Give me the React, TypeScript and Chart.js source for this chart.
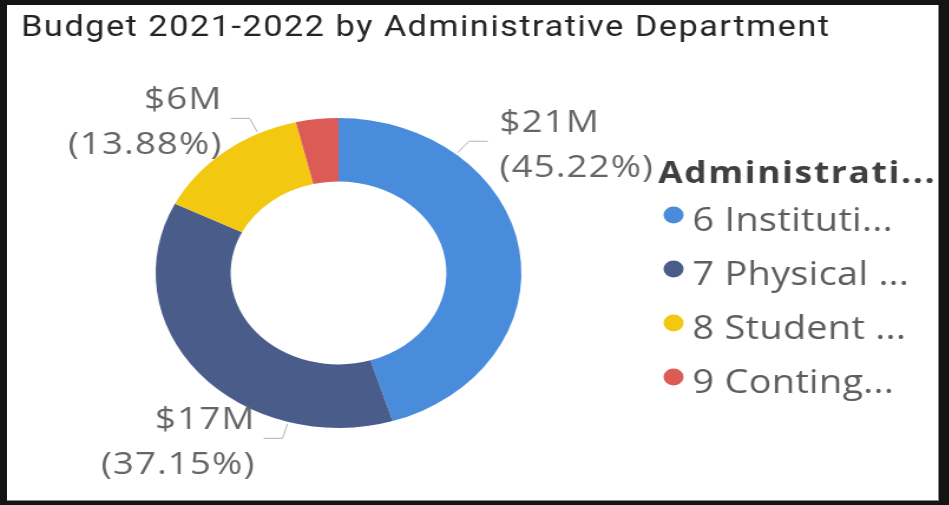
import React, { useEffect, useRef } from "react";
import { Chart, registerables } from "chart.js";

Chart.register(...registerables);

// ---- data ----
const chartTitle = "Budget 2021-2022 by Administrative Department";
const legendTitle = "Administrati...";
const categories = ["6 Instituti...", "7 Physical ...", "8 Student ...", "9 Conting..."];
const budgetMillions = [20.982, 17.238, 6.44, 1.74];
const sliceColors = ["#4A8CDC", "#4A5C8A", "#F2C811", "#DC5B57"];
// slices that carry a data label, and where the leader line leaves the ring (deg, clockwise from top)
const labelledSlices = [0, 1, 2];
const labelAnchorDeg = [40, 196, 334];

const CANVAS_W = 790;
const CANVAS_H = 496;
const STRETCH = 932 / 790;

const overlayPlugin = {
  id: "overlay",
  afterDraw(chart: any) {
    const ctx: any = chart.ctx;
    const ds = chart.data.datasets[0];
    const values: number[] = ds.data;
    const total = values.reduce((a: number, b: number) => a + b, 0);
    const meta = chart.getDatasetMeta(0);
    ctx.save();

    // title
    ctx.font = "29px Roboto";
    ctx.letterSpacing = "1.3px";
    ctx.fillStyle = "#252423";
    ctx.textAlign = "left";
    ctx.textBaseline = "alphabetic";
    ctx.fillText(chartTitle, 12, 31);

    // data labels with leader lines
    labelledSlices.forEach((i, k) => {
      const arc = meta.data[i];
      const { x, y, outerRadius } = arc.getProps(["x", "y", "outerRadius"], true);
      const a = (labelAnchorDeg[k] * Math.PI) / 180;
      const dx = Math.sin(a);
      const dy = -Math.cos(a);
      const ax = x + dx * (outerRadius + 2);
      const ay = y + dy * (outerRadius + 2);
      const ex = ax + dx * 15;
      const ey = ay + dy * 15;
      const side = dx >= 0 ? 1 : -1;
      const hx = ex + side * 16;
      ctx.strokeStyle = "#B3B3B3";
      ctx.lineWidth = 1;
      ctx.beginPath();
      ctx.moveTo(ax, ay);
      ctx.lineTo(ex, ey);
      ctx.lineTo(hx, ey);
      ctx.stroke();
      const v = values[i];
      const l1 = `$${Math.round(v)}M`;
      const l2 = `(${((v / total) * 100).toFixed(2)}%)`;
      ctx.font = '31px "Open Sans"';
      ctx.letterSpacing = "1px";
      ctx.fillStyle = "#666666";
      ctx.textAlign = side > 0 ? "left" : "right";
      const tx = hx + side * (side > 0 ? 10 : 7);
      ctx.fillText(l1, tx, ey - 9);
      ctx.fillText(l2, tx, ey + 36);
    });

    // legend
    ctx.textAlign = "left";
    ctx.font = 'bold 30px "Open Sans"';
    ctx.letterSpacing = "1.4px";
    ctx.fillStyle = "#404040";
    ctx.fillText(legendTitle, 552, 178);
    ctx.font = '32px "Open Sans"';
    ctx.letterSpacing = "0.3px";
    chart.data.labels.forEach((lab: string, i: number) => {
      const cy = 210 + i * 54;
      ctx.fillStyle = ds.backgroundColor[i];
      ctx.beginPath();
      ctx.arc(565, cy, 8.5, 0, Math.PI * 2);
      ctx.fill();
      ctx.fillStyle = "#605E5C";
      ctx.fillText(lab, 581, cy + 16);
    });
    ctx.restore();
  },
};

export default function App() {
  const ref = useRef<HTMLCanvasElement>(null);
  useEffect(() => {
    if (!ref.current) return;
    const chart = new Chart(ref.current, {
      type: "doughnut",
      data: {
        labels: categories,
        datasets: [
          {
            data: budgetMillions,
            backgroundColor: sliceColors,
            borderWidth: 0,
          },
        ],
      },
      options: {
        animation: false,
        responsive: false,
        devicePixelRatio: 1,
        cutout: "59%",
        layout: { padding: { left: 126, top: 113, right: 354, bottom: 73 } },
        plugins: {
          legend: { display: false },
          title: { display: false },
          tooltip: { enabled: false },
        },
      },
      plugins: [overlayPlugin],
    } as any);
    return () => chart.destroy();
  }, []);
  return (
    <div style={{ position: "fixed", left: 0, top: 0, width: 949, height: 505, background: "#141414" }}>
      <div
        style={{
          position: "absolute",
          left: 7,
          top: 5,
          width: 932,
          height: 496,
          background: "#ffffff",
          overflow: "hidden",
          boxShadow: "inset -1px -1px 0 #8a8a8a",
        }}
      >
        <div style={{ width: CANVAS_W, height: CANVAS_H, transform: `scaleX(${STRETCH})`, transformOrigin: "0 0" }}>
          <canvas ref={ref} width={CANVAS_W} height={CANVAS_H} style={{ display: "block" }} />
        </div>
      </div>
    </div>
  );
}
